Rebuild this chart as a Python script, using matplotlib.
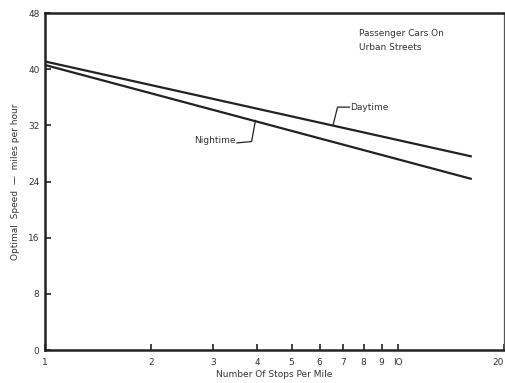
import numpy as np
import matplotlib.pyplot as plt

# Optimal speed vs stops per mile
stops = [1, 16.1]
daytime = [41.1, 27.6]
nighttime = [40.6, 24.4]

x_ticks = [1, 2, 3, 4, 5, 6, 7, 8, 9, 10, 20]
x_labels = ['1', '2', '3', '4', '5', '6', '7', '8', '9', 'IO', '20']
y_ticks = [0, 8, 16, 24, 32, 40, 48]

ink = '#222222'
fig = plt.figure(figsize=(5.06, 3.83), dpi=100)
ax = fig.add_axes([0.089, 0.086, 0.907, 0.880])

ax.plot(stops, daytime, color=ink, lw=1.6)
ax.plot(stops, nighttime, color=ink, lw=1.6)

ax.set_xscale('log')
ax.set_xlim(1, 20)
ax.set_ylim(0, 48)
ax.set_xticks(x_ticks)
ax.set_xticklabels(x_labels)
ax.minorticks_off()
ax.set_yticks(y_ticks)
ax.tick_params(direction='in', length=4, width=1.2, labelsize=6.5,
               labelcolor='#333333', color=ink, pad=4)
ax.tick_params(axis='x', pad=6)
ax.get_xticklabels()[-1].set_horizontalalignment('right')

for side in ['left', 'bottom', 'top']:
    ax.spines[side].set_linewidth(1.8)
    ax.spines[side].set_color(ink)
ax.spines['right'].set_linewidth(0.9)
ax.spines['right'].set_color('#555555')

ax.set_xlabel('Number Of Stops Per Mile', fontsize=6.5, color='#333333', labelpad=2)
ax.set_ylabel('Optimal  Speed  \u2014  miles per hour', fontsize=6.5,
              color='#333333', labelpad=6)

# annotations with leader lines
ax.text(3.46, 29.8, 'Nightime', fontsize=6.5, color='#333333', va='center', ha='right')
ax.plot([3.5, 3.85, 3.95], [29.5, 29.7, 32.7], color=ink, lw=0.9)
ax.text(7.35, 34.6, 'Daytime', fontsize=6.5, color='#333333', va='center', ha='left')
ax.plot([7.3, 6.75, 6.55], [34.6, 34.6, 32.0], color=ink, lw=0.9)
ax.text(7.75, 45.7, 'Passenger Cars On\nUrban Streets', fontsize=6.5,
        color='#333333', va='top', ha='left', linespacing=1.7)

fig.savefig('out.png', dpi=100)
